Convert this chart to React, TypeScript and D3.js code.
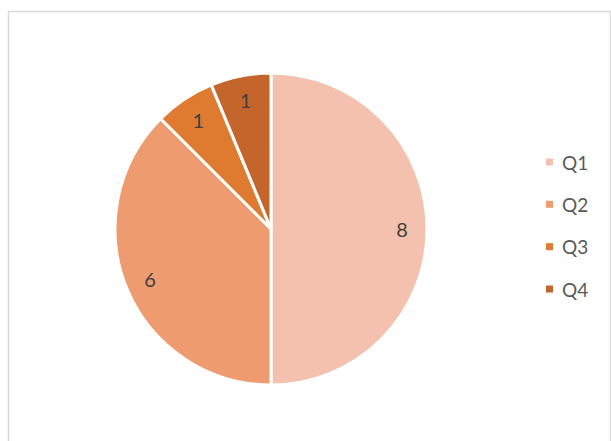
import React from "react";
import * as d3 from "d3";

const categories = ["Q1", "Q2", "Q3", "Q4"];
const values = [8, 6, 1, 1];
const colors = ["#f3c1ad", "#ed9b6f", "#df7a31", "#c4662b"];

export default function App() {
  const W = 611, H = 441;
  const cx = 271, cy = 229, r = 156;
  const pie = d3.pie<number>().sort(null).value((d) => d)(values);
  const arc = d3.arc<d3.PieArcDatum<number>>().innerRadius(0).outerRadius(r);
  const labelArc = d3.arc<d3.PieArcDatum<number>>().innerRadius(r * 0.84).outerRadius(r * 0.84);
  const legendY = d3.scalePoint<string>().domain(categories).range([162, 289]);
  return (
    <svg width={W} height={H} style={{ position: "absolute", left: 0, top: 0, background: "#fff" }}
      fontFamily="Lato, 'Open Sans', sans-serif">
      <rect x={8.5} y={11.5} width={W - 9} height={H} fill="#fff" stroke="#d9d9d9" strokeWidth={1.5} />
      <g transform={`translate(${cx},${cy})`}>
        {pie.map((p, i) => (
          <path key={i} d={arc(p) || ""} fill={colors[i]} stroke="#fff" strokeWidth={3} strokeLinejoin="round" />
        ))}
        {pie.map((p, i) => {
          const [x, y] = labelArc.centroid(p);
          return (
            <text key={i} x={x} y={y} textAnchor="middle" dominantBaseline="central" fontSize={20} fill="#404040">
              {values[i]}
            </text>
          );
        })}
      </g>
      {categories.map((c, i) => (
        <g key={c} transform={`translate(0,${legendY(c)})`}>
          <rect x={546} y={-3.5} width={7} height={7} fill={colors[i]} />
          <text x={562} y={0} dominantBaseline="central" fontSize={19} fill="#595959">{c}</text>
        </g>
      ))}
    </svg>
  );
}
